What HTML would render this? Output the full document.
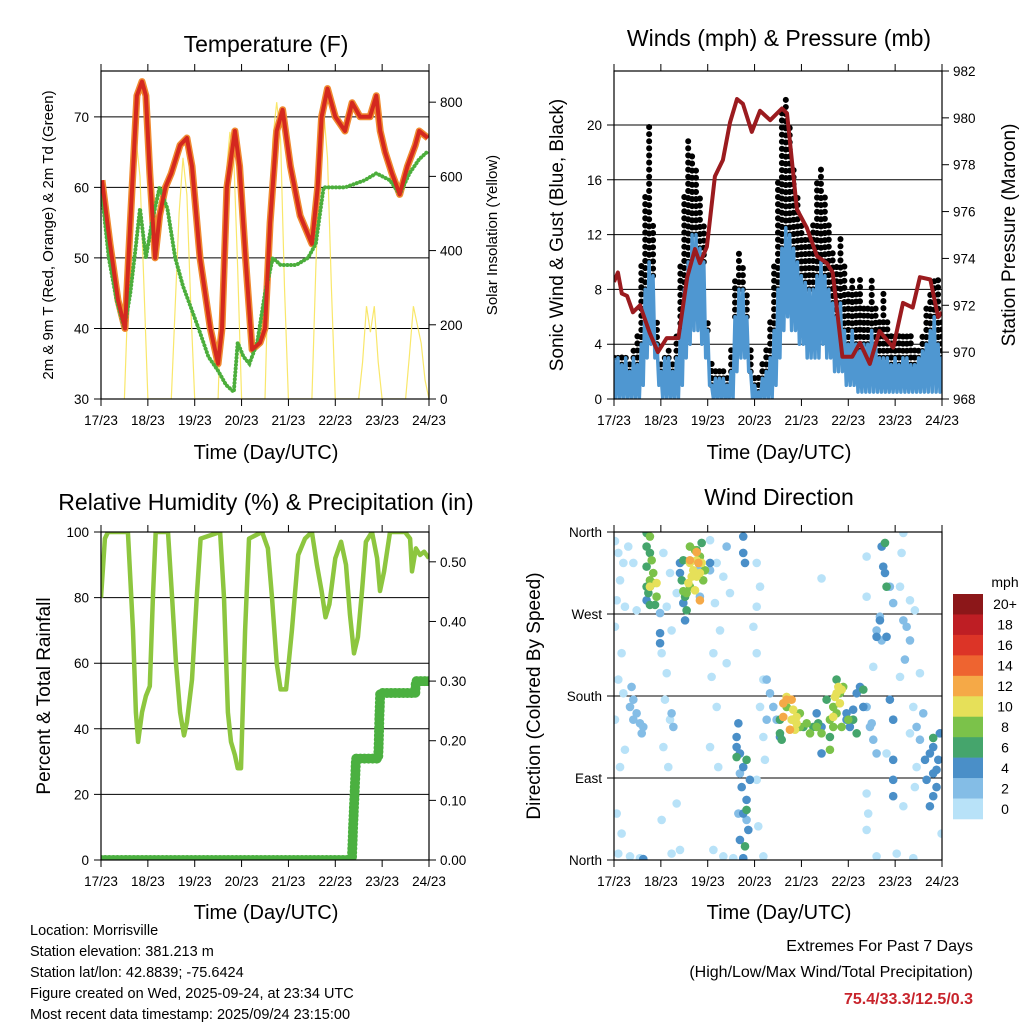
<!DOCTYPE html>
<html><head><meta charset="utf-8">
<style>
body{margin:0;background:#fff;}
svg{display:block;font-family:"Liberation Sans",Arial,sans-serif;}
</style></head>
<body>
<svg id="svg" width="1024" height="1024" viewBox="0 0 1024 1024" xmlns="http://www.w3.org/2000/svg">
<rect width="1024" height="1024" fill="#fff"/>
<text x="266" y="52" font-size="23" text-anchor="middle">Temperature (F)</text>
<text x="779" y="46" font-size="23" text-anchor="middle">Winds (mph) &amp; Pressure (mb)</text>
<text x="266" y="510" font-size="23" text-anchor="middle">Relative Humidity (%) &amp; Precipitation (in)</text>
<text x="779" y="505" font-size="23" text-anchor="middle">Wind Direction</text>
<text x="266" y="459" font-size="20" text-anchor="middle">Time (Day/UTC)</text>
<text x="779" y="459" font-size="20" text-anchor="middle">Time (Day/UTC)</text>
<text x="266" y="919" font-size="20" text-anchor="middle">Time (Day/UTC)</text>
<text x="779" y="919" font-size="20" text-anchor="middle">Time (Day/UTC)</text>
<text transform="translate(53,235) rotate(-90)" font-size="15" text-anchor="middle">2m &amp; 9m T (Red, Orange) &amp; 2m Td (Green)</text>
<text transform="translate(497,235) rotate(-90)" font-size="15" text-anchor="middle">Solar Insolation (Yellow)</text>
<text transform="translate(563,235) rotate(-90)" font-size="19" text-anchor="middle">Sonic Wind &amp; Gust (Blue, Black)</text>
<text transform="translate(1015,235) rotate(-90)" font-size="19" text-anchor="middle">Station Pressure (Maroon)</text>
<text transform="translate(50,696) rotate(-90)" font-size="19" text-anchor="middle">Percent &amp; Total Rainfall</text>
<text transform="translate(540,696) rotate(-90)" font-size="19" text-anchor="middle">Direction (Colored By Speed)</text>
<g font-size="14.5">
<text x="30" y="935">Location: Morrisville</text>
<text x="30" y="956">Station elevation: 381.213 m</text>
<text x="30" y="977">Station lat/lon: 42.8839; -75.6424</text>
<text x="30" y="998">Figure created on Wed, 2025-09-24, at 23:34 UTC</text>
<text x="30" y="1019">Most recent data timestamp: 2025/09/24 23:15:00</text>
</g>
<g font-size="16" text-anchor="end">
<text x="973" y="951">Extremes For Past 7 Days</text>
<text x="973" y="977">(High/Low/Max Wind/Total Precipitation)</text>
<text x="973" y="1004" fill="#c8242c" font-weight="bold">75.4/33.3/12.5/0.3</text>
</g>
<text x="1005" y="587" font-size="14" text-anchor="middle">mph</text>
</svg>
<script>
// ---- data ----
const dayLabels=["17/23","18/23","19/23","20/23","21/23","22/23","23/23","24/23"];
const tempT=[0.5,4.6,8.7,12.3,15,18.4,21,23,25,27.7,30,33,36,40.5,44,46.6,50.7,56,60,62,64.5,68.6,71,74,77.4,81.5,84,86.6,90,93,97,102,108,111,113,116,120,125,128.6,132.7,137.8,141,143,145.5,149,153,157,161,163,167.5];
const tempF=[61,52,44,40,55,73,75,73,62,50,56,60,62,66,67,63,50,40,35,40,60,68,63,50,37,38,40,55,68,71,63,56,52,60,70,74,70,68,72,70,70,73,68,65,62,59,63,66,68,67];
const dewT=[0.5,4,8,12,15,18,20,23,26,30,34,38,42,46,50,55,60,64,68,70,73,76,80,84,88,92,100,106,110,114,125,135,141,148,153,158,163,167];
const dewF=[59,50,44,40,45,52,57,50,55,60,57,50,46,43,40,36,34,32,31,38,36,35,38,45,50,49,49,50,52,60,60,61,62,61,59,62,64,65];
const solarT=[12,14,16,18,20,22,24,36,38,40,42,44,46,48,60,62,64,66,68,70,72,84,86,88,90,92,94,96,108,110,112,114,116,118,120,132,134,136,138,140,142,144,156,158,160,162,164,166,168];
const solarW=[0,300,550,700,600,300,0,0,250,500,650,550,250,0,0,350,600,720,650,350,0,0,400,700,800,700,300,0,0,350,650,780,650,300,0,0,100,250,180,250,100,0,0,120,250,200,150,50,0];
const windT=[0,2,4,6,8,10,12,14,16,18,20,22,24,26,28,30,32,34,36,38,40,42,44,46,48,50,52,54,56,58,60,62,64,66,68,70,72,74,76,78,80,82,84,86,88,90,92,94,96,98,100,102,104,106,108,110,112,114,116,118,120,122,124,126,128,130,132,134,136,138,140,142,144,146,148,150,152,154,156,158,160,162,164,166,168];
const windMax=[3,3,2.5,3,2,3,2.5,4,8,10,9,4,2,3,3,2,3,5,8,10,12,12,11,10,5,1,1.5,1.5,1.5,1,2,6,8,8,6,2,1,0.5,1.5,2,3,5,8,11,12.5,12,11,10,9,8.5,8,8,9,10,9,8,7,6,7,5,4,5,4,3.5,4,4,5,4,3,3,3,2.5,3,2.5,3,3,2.5,2.5,3,3.5,4,5,6,4,3];
const windMin=[0,0,0,0,0,0,0,1,3,4,3,1,0,0,0,0,0,1,3,4,5,5,4,3,1,0,0,0,0,0,0,2,3,3,2,0,0,0,0,0,0,1,3,5,6,5,5,4,4,3,3,3,3,4,3,3,2,2,2,1,1,1,0.5,0.5,0.5,0.5,0.5,0.5,0.5,0.5,0.5,0.5,0.5,0.5,0.5,0.5,0.5,0.5,0.5,0.5,0.5,0.5,0.5,0.5,0.5];
const gust=[3.5,3,3.5,3,3,4,5,10,15,20,13,6,3,3,4,3,5,10,15,19,18,17,15,13,6,3,2.5,2.5,2.5,2,4,9,11,10,8,4,2,2,3,4,6,10,16,21,22,20,17,15,13,12,12,13,16,17,15,13,11,10,12,10,8,9,8,9,7,7,9,7,6,8,6,5,5,5,5,5,5,4,4,5,7,8,9,9,6];
const presT=[0,2,4,6.7,9.7,13.3,18.4,22.5,27,33,37.5,41.5,44,47.6,51.7,55.8,59.4,63,66,70.6,74.8,80,86,88.6,93.7,98.8,104,109,112,117,122,126,131,136,143,148,153,156.7,162,166,168];
const presMb=[973.0,973.4,972.5,972.4,971.7,972.0,970.8,970.0,970.6,970.6,973.2,974.4,973.8,974.5,977.5,978.2,979.8,980.8,980.6,979.4,980.3,979.9,980.4,980.2,976.1,975.3,974.1,973.8,973.4,969.8,969.8,970.4,969.5,970.9,970.2,972.1,971.9,973.2,973.1,971.5,971.7];
const rhT=[0,2,3.6,13.8,16.4,17.9,19,21,23,25,26.6,28,34.3,36.4,38.4,40.5,42.5,44,46.6,49,51,61,63,65,66.6,68.6,70,71.7,73.8,75.8,82.5,85.5,87.6,90,92,94.8,97.8,101,104.5,108,110.6,113,115,117,120,123,125.5,127.5,129.6,131.6,133.7,135.7,138.8,141.4,142.9,145,148,155.7,158.3,159.3,161.3,163.4,165.5,168];
const rhPct=[80,98,100,100,70,45,36,45,50,53,80,100,100,80,60,45,38,42,55,80,98,100,80,45,36,32,28,28,70,98,100,95,80,60,52,52,70,93,98,100,90,82,74,78,92,97,90,75,63,68,82,97,100,92,82,88,100,100,98,88,95,93,94,92];
const precT=[0,128.5,129.2,130,130.6,142,142.3,142.6,143,161,161.3,168];
const precIn=[0,0,0.06,0.12,0.17,0.17,0.2,0.24,0.28,0.28,0.3,0.3];
// wind direction scatter: hours, degrees, mph
const dirT=[0.5,2.2,4.8,3.1,7.3,9.9,1.4,5.6,11.6,0.5,3.9,2.2,4.8,0.5,5.6,3.1,1.4,3.9,2.2,8.2,13.3,25.3,28.7,32.1,27,29.5,24.4,27,26.1,28.7,25.3,27.8,24.4,29.5,33.8,32.1,49.2,52.6,56,59.4,51.7,54.3,50.9,57.7,50,52.6,49.2,53.4,50.9,56,61.1,73.1,74.8,73.1,71.4,73.1,76.5,74.8,76.5,77.3,73.1,76.5,73.9,106.3,129.4,129.4,132.8,129.4,130.2,129.4,134.5,139.6,143,146.5,148.2,147.3,146.5,151.6,154.1,156.7,153.3,151.6,155,154.1,148.2,167.8,144.8,153.3,
9,9.9,11.6,13.3,14.2,8.2,9.9,15,23.6,29.5,30.4,44,44,49.2,57.7,78.2,79.9,81.6,83.3,78.2,129.4,131.1,132.8,134.5,132,136.2,137.1,134.5,148.2,149.9,151.6,149,155,156.7,158.4,141.3,143,64.5,63.7,67.9,
16.7,18.4,23.6,36.4,35.5,33.8,33.8,49.2,66.2,66.2,67.1,23.6,62.8,62.8,64.5,63.7,66.2,65.4,67.9,69.6,66.2,68.8,64.5,66.2,106.3,106.3,119.1,120.8,122.5,124.3,126,127.7,137.9,138.8,137.1,136.2,139.6,134.5,141.3,143,143,143,143,161.8,163.5,165.2,160.1,163.5,161.8,166.9,166.1,159.3,163.5,165.2,103.8,85,15,119.1,
16.7,16.7,18.4,16.7,16.7,17.6,18.4,21,35.5,34.7,36.4,37.2,42.3,44.9,85,85,85.9,97,102.1,104.6,122.5,124.3,127.7,139.6,138.8,62.8,67.9,67.1,67.9,163.5,114,110.6,108.9,
18.4,19.3,20.1,21.8,18.4,20.1,38.9,41.5,44,46.6,45.7,35.5,37.2,38.9,88.4,91.8,95.2,98.7,100.4,103.8,95.2,106.3,110.6,112.3,115.7,117.4,112.3,110.6,114,116.6,120,
18.4,21.8,38.9,40.6,42.3,44,38.1,41.5,44.9,42.3,39.8,88.4,90.1,91.8,93.5,92.7,91,93.5,113.2,114.9,115.7,116.6,114,112.3,
42.3,38.9,43.2,44,86.7,88.4,91,86.7,90.1];
const dirDeg=[350,337,326,307,344,326,285,278,274,256,227,198,183,154,121,102,51,29,7,4,2,337,315,293,278,252,227,205,176,154,124,102,44,7,11,62,351,326,311,293,282,252,227,216,201,168,124,102,11,4,2,326,300,278,256,227,198,168,135,110,88,4,37,309,333,289,212,73,51,33,4,117,154,201,359,337,300,285,274,205,168,139,102,80,59,29,7,2,
190,176,161,150,139,168,154,146,271,161,146,322,289,318,344,198,183,168,154,154,168,146,132,117,150,267,241,252,263,256,241,220,146,132,161,300,282,95,51,44,
285,300,249,263,282,326,315,326,355,337,326,238,135,124,117,150,102,80,66,88,51,33,22,2,146,117,161,146,165,183,190,168,322,315,344,263,245,245,176,154,110,88,70,117,95,80,88,70,59,139,110,110,124,99,161,135,1,154,
359,344,337,322,300,293,280,280,329,307,289,274,340,348,154,139,132,146,146,150,154,139,187,300,348,113,110,15,55,134,198,135,176,
355,329,315,289,307,304,344,340,333,318,307,295,293,300,168,154,161,150,139,146,146,139,154,146,183,190,168,121,161,146,154,
300,304,326,318,329,315,304,296,326,311,311,179,176,165,150,143,154,157,179,190,172,187,183,157,
338,329,326,285,172,176,176,157,143];
const dirSpd=[].concat(Array(88).fill(1),Array(40).fill(3),Array(58).fill(5),Array(33).fill(7),Array(31).fill(9),Array(24).fill(11),Array(9).fill(13));
const cbLabels=["20+","18","16","14","12","10","8","6","4","2","0"];
const cbColors=["#8c1719","#be1e24","#dc3427","#ee6430","#f5a947","#e6e059","#7bc24a","#45a56c","#4a8fc8","#84bde6","#b8e2f8"];
</script>
<script>
const NS="http://www.w3.org/2000/svg";
const svg=document.getElementById('svg');
function mk(tag,attrs,parent){const e=document.createElementNS(NS,tag);for(const k in attrs)e.setAttribute(k,attrs[k]);(parent||svg).appendChild(e);return e;}
function scale(d0,d1,r0,r1){return v=>r0+(v-d0)/(d1-d0)*(r1-r0);}
function poly(xs,ys,sx,sy){return xs.map((t,i)=>sx(t).toFixed(1)+','+sy(ys[i]).toFixed(1)).join(' ');}
const P={
 temp:{x0:101,x1:429,y0:71,y1:399},
 wind:{x0:614,x1:942,y0:71,y1:399},
 rh:{x0:101,x1:429,y0:532,y1:860},
 dir:{x0:614,x1:942,y0:532,y1:860}
};
function frame(p,name,yl,yticks,ylab,yr,rticks,rlab){
  const g=mk('g',{});
  
  
  const sx=scale(0,168,p.x0,p.x1);
  dayLabels.forEach((d,i)=>{
    const x=sx(i*24);
    mk('line',{x1:x,x2:x,y1:p.y1,y2:p.y1+7,stroke:'#000','stroke-width':1},g);
    mk('line',{x1:x,x2:x,y1:p.y0,y2:p.y0-7,stroke:'#000','stroke-width':1},g);
    const t=mk('text',{x:x,y:p.y1+26,'font-size':13.5,'text-anchor':'middle'},g);t.textContent=d;
  });
  yticks.forEach((v,i)=>{
    const y=yl(v);
    mk('line',{x1:p.x0-7,x2:p.x1,y1:y,y2:y,stroke:'#000','stroke-width':1},g);
    if(ylab){const t=mk('text',{x:p.x0-12,y:y+5,'font-size':13.5,'text-anchor':'end'},g);t.textContent=ylab[i];}
  });
  if(yr){rticks.forEach((v,i)=>{
    const y=yr(v);
    mk('line',{x1:p.x1,x2:p.x1+7,y1:y,y2:y,stroke:'#000','stroke-width':1},g);
    const t=mk('text',{x:p.x1+11,y:y+5,'font-size':13.5,'text-anchor':'start'},g);t.textContent=rlab[i];
  });}
  return g;
}
function border(p,name){const r=mk('rect',{x:p.x0,y:p.y0,width:p.x1-p.x0,height:p.y1-p.y0,fill:'none',stroke:'#000','stroke-width':1.2});
  }
function clip(p,id){const c=mk('clipPath',{id:id});mk('rect',{x:p.x0,y:p.y0,width:p.x1-p.x0,height:p.y1-p.y0},c);}

// ---- Temperature panel ----
{const p=P.temp;const sx=scale(0,168,p.x0,p.x1);const sy=scale(30,76.5,p.y1,p.y0);const sr=scale(0,884,p.y1,p.y0);
 frame(p,'temperature',sy,[30,40,50,60,70],['30','40','50','60','70'],sr,[0,200,400,600,800],['0','200','400','600','800']);
 clip(p,'c1');const g=mk('g',{'clip-path':'url(#c1)'});
 const s=mk('polyline',{points:poly(solarT,solarW,sx,sr),fill:'none',stroke:'#f8e45a','stroke-width':1.2,opacity:0.9},g);
 
 const o=mk('polyline',{points:poly(tempT,tempF,sx,sy),fill:'none',stroke:'#f08a30','stroke-width':7,'stroke-linejoin':'round'},g);
 
 const d=mk('polyline',{points:poly(dewT,dewF,sx,sy),fill:'none',stroke:'#4cae3c','stroke-width':4,'stroke-dasharray':'0.1 3.5','stroke-linecap':'round'},g);
 
 const r=mk('polyline',{points:poly(tempT,tempF,sx,sy),fill:'none',stroke:'#d4281f','stroke-width':4,'stroke-linejoin':'round'},g);
 
 border(p,'temperature');}

// ---- Winds panel ----
{const p=P.wind;const sx=scale(0,168,p.x0,p.x1);const sy=scale(0,23.94,p.y1,p.y0);const sr=scale(968,982,p.y1,p.y0);
 frame(p,'winds',sy,[0,4,8,12,16,20],['0','4','8','12','16','20'],sr,[968,970,972,974,976,978,980,982],['968','970','972','974','976','978','980','982']);
 clip(p,'c2');const g=mk('g',{'clip-path':'url(#c2)'});
 windT.forEach((t,i)=>{
   const b=mk('line',{x1:sx(t),x2:sx(t),y1:sy(windMax[i]),y2:sy(gust[i]),stroke:'#000','stroke-width':6,'stroke-linecap':'round','stroke-dasharray':'0.1 7'},g);
   
   
 });
 const zz=[];
 windT.forEach((t,i)=>{
   zz.push(sx(t).toFixed(1)+','+sy(windMax[i]).toFixed(1));
   zz.push((sx(t)+1.9).toFixed(1)+','+sy(windMin[i]).toFixed(1));
 });
 const wb=mk('polyline',{points:zz.join(' '),fill:'none',stroke:'#4f97d1','stroke-width':3.5,'stroke-linejoin':'round'},g);
 
 const pl=mk('polyline',{points:poly(presT,presMb,sx,sr),fill:'none',stroke:'#9b1b1f','stroke-width':4,'stroke-linejoin':'round'},g);
 
 border(p,'winds');}

// ---- RH panel ----
{const p=P.rh;const sx=scale(0,168,p.x0,p.x1);const sy=scale(0,100,p.y1,p.y0);const sr=scale(0,0.55,p.y1,p.y0);
 frame(p,'humidity',sy,[0,20,40,60,80,100],['0','20','40','60','80','100'],sr,[0,0.1,0.2,0.3,0.4,0.5],['0.00','0.10','0.20','0.30','0.40','0.50']);
 clip(p,'c3');const g=mk('g',{'clip-path':'url(#c3)'});
 const l=mk('polyline',{points:poly(rhT,rhPct,sx,sy),fill:'none',stroke:'#8dc63f','stroke-width':4.5,'stroke-linejoin':'round'},g);
 
 const pr=mk('polyline',{points:poly(precT,precIn,sx,sr),fill:'none',stroke:'#4bb040','stroke-width':10,'stroke-linecap':'round','stroke-linejoin':'round','stroke-dasharray':'0.1 4'},g);
 
 border(p,'humidity');}

// ---- Wind direction panel ----
{const p=P.dir;const sx=scale(0,168,p.x0,p.x1);const sy=scale(0,360,p.y1,p.y0);
 frame(p,'direction',sy,[0,90,180,270,360],['North','East','South','West','North']);
 clip(p,'c4');const g=mk('g',{'clip-path':'url(#c4)'});
 function col(s){const idx=Math.min(10,Math.floor(s/2));return cbColors[10-idx];}
 dirT.forEach((t,i)=>{
   const c=mk('circle',{cx:sx(dirT[i]),cy:sy(dirDeg[i]),r:4.3,fill:col(dirSpd[i])},g);
   
   
 });
 border(p,'direction');
 const cb=mk('g',{});
 
 const h=225/11;
 cbColors.forEach((c,i)=>{
   const r=mk('rect',{x:953,y:594+i*h,width:30,height:h+0.3,fill:c},cb);
   
   
   const t=mk('text',{x:1005,y:594+i*h+h/2+5,'font-size':14,'text-anchor':'middle'},cb);t.textContent=cbLabels[i];
 });}
</script>
</body></html>
